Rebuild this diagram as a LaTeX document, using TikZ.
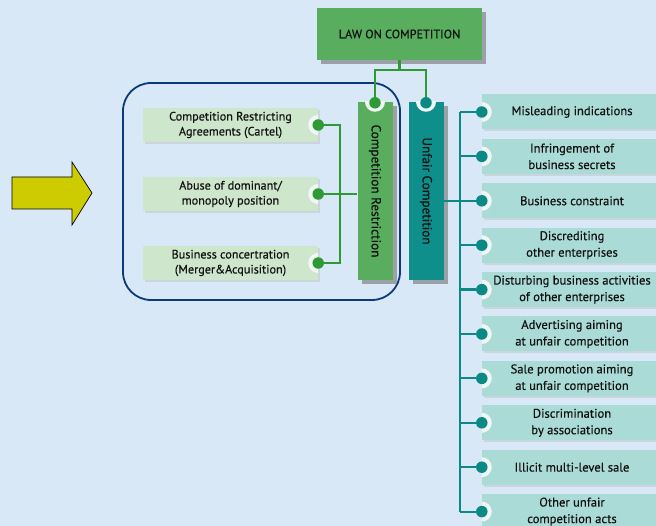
\documentclass[tikz,border=0pt]{standalone}
\usepackage{fontspec}
\setmainfont{PT Sans}[FakeBold=0.35]
\definecolor{bg}{HTML}{D8E8F6}
\definecolor{lawgreen}{HTML}{58AD5E}
\definecolor{dotgreen}{HTML}{2E9A34}
\definecolor{tealbar}{HTML}{0E8F8B}
\definecolor{dotteal}{HTML}{0B8985}
\definecolor{leftfill}{HTML}{CDE6CC}
\definecolor{rightfill}{HTML}{AADBD6}
\definecolor{navy}{HTML}{0B3A78}
\definecolor{arrowy}{HTML}{CCCC00}
\definecolor{notch}{HTML}{F0F6F4}
\definecolor{ink}{HTML}{111111}
\tikzset{
  shadowed/.style={preaction={fill=black!55,opacity=0.6,transform canvas={xshift=4pt,yshift=-4pt}}},
  lightshadow/.style={preaction={fill=black!30,opacity=0.35,transform canvas={xshift=1.5pt,yshift=-2pt}}},
  lawbox/.style={shadowed,fill=lawgreen,minimum width=165pt,minimum height=52pt,inner sep=0pt,
    font=\fontsize{12.2}{14}\selectfont,text=ink},
  barbox/.style={shadowed,minimum width=35pt,minimum height=178pt,inner sep=0pt},
  bartext/.style={rotate=-90,font=\fontsize{13.2}{15}\selectfont,text=ink},
  leftitem/.style={lightshadow,fill=leftfill,minimum width=175pt,minimum height=34pt,inner sep=0pt,
    align=center,font=\fontsize{12.2}{15}\selectfont,text=ink},
  rightitem/.style={lightshadow,fill=rightfill,minimum width=180pt,minimum height=35pt,inner sep=0pt,
    align=center,font=\fontsize{12.6}{16.5}\selectfont,text=ink},
  gdot/.style={circle,fill=dotgreen,minimum size=11.5pt,inner sep=0pt},
  tdot/.style={circle,fill=dotteal,minimum size=11.5pt,inner sep=0pt},
  gline/.style={draw=dotgreen,line width=2.2pt},
  tline/.style={draw=dotteal,line width=2.2pt},
}
\begin{document}
\begin{tikzpicture}[x=1pt,y=-1pt]
\fill[bg] (0,0) rectangle (656,526);
\useasboundingbox (0,0) rectangle (656,526);

% yellow arrow
\draw[fill=arrowy,draw=black,line width=0.7pt,line join=miter]
  (12,177) -- (72,177) -- (72,162) -- (92,193) -- (72,225) -- (72,209) -- (12,209) -- cycle;

% title box
\node[lawbox] (law) at (399.5,34) {LAW ON COMPETITION};

% group frame around the restriction branch
\draw[navy,line width=1.8pt,rounded corners=28pt] (123,83) rectangle (400,300);

% the two branch bars
\node[barbox,fill=lawgreen] (cr) at (375,191) {};
\node[bartext] (crt) at (cr.center) {Competition Restriction};
\node[barbox,fill=tealbar] (uc) at (426,191) {};
\node[bartext] (uct) at (uc.center) {Unfair Competition};

% notches at the top of the bars
\begin{scope}
  \clip (cr.north west) rectangle (cr.south east);
  \fill[notch] (cr.north) circle (10pt);
\end{scope}
\begin{scope}
  \clip (uc.north west) rectangle (uc.south east);
  \fill[notch] (uc.north) circle (10pt);
\end{scope}
\node[gdot] (crd) at ([yshift=-1pt]cr.north) {};
\node[tdot] (ucd) at ([yshift=-1pt]uc.north) {};

% title to bars
\coordinate (lj) at (399.5,70);
\draw[gline] (law.south) -- (lj);
\draw[gline] (lj) -| (crd);
\draw[gline] (lj) -| ([yshift=-4pt]ucd.north);
\draw[tline] ([yshift=-4pt]ucd.north) -- (ucd);

% left items
\node[leftitem] (l1) at (230.5,125) {Competition Restricting\\Agreements (Cartel)};
\node[leftitem] (l2) at (230.5,194) {Abuse of dominant/\\monopoly position};
\node[leftitem] (l3) at (230.5,263) {Business concertration\\(Merger\&Acquisition)};
\foreach \n in {l1,l2,l3}{
  \begin{scope}
    \clip (\n.north west) rectangle (\n.south east);
    \fill[notch] (\n.east) circle (10pt);
  \end{scope}
  \node[gdot] (\n d) at (\n.east) {};
}
\coordinate (lv1) at (340,125);
\coordinate (lv3) at (340,263);
\draw[gline] (l1d) -- (lv1) -- (lv3) -- (l3d);
\draw[gline] (l2d) -- (cr.west |- l2d);

% right items
\node[rightitem] (r1) at (572,112) {Misleading indications};
\node[rightitem] (r2) at (572,156.4) {Infringement of\\business secrets};
\node[rightitem] (r3) at (572,200.8) {Business constraint};
\node[rightitem] (r4) at (572,245.2) {Discrediting\\other enterprises};
\node[rightitem] (r5) at (572,289.6) {Disturbing business activities\\of other enterprises};
\node[rightitem] (r6) at (572,334) {Advertising aiming\\at unfair competition};
\node[rightitem] (r7) at (572,378.4) {Sale promotion aiming\\at unfair competition};
\node[rightitem] (r8) at (572,422.8) {Discrimination\\by associations};
\node[rightitem] (r9) at (572,467.2) {Illicit multi-level sale};
\node[rightitem] (r10) at (572,511.6) {Other unfair\\competition acts};
\foreach \n in {r1,r2,r3,r4,r5,r6,r7,r8,r9,r10}{
  \begin{scope}
    \clip (\n.north west) rectangle (\n.south east);
    \fill[notch] (\n.west) circle (10pt);
  \end{scope}
  \node[tdot] (\n d) at (\n.west) {};
  \draw[tline] (\n d) -- (460,0 |- \n d);
}
\draw[tline] (460,0 |- r1d) -- (460,0 |- r10d);
\draw[tline] (uc.east |- r3d) -- (460,0 |- r3d);
\end{tikzpicture}
\end{document}
